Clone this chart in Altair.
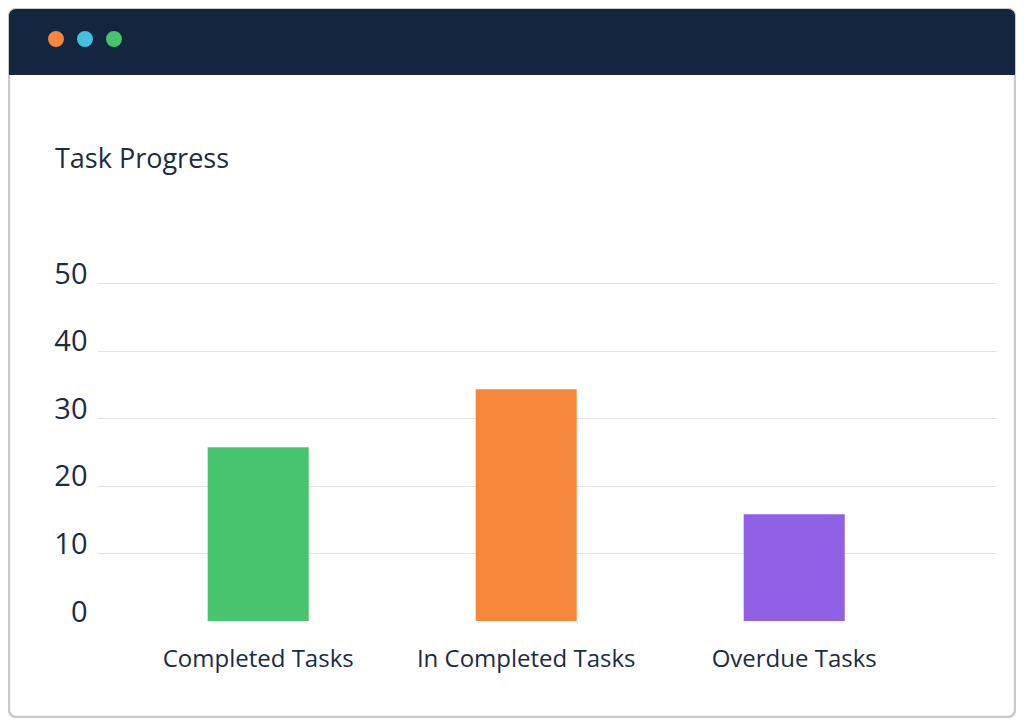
import altair as alt
import pandas as pd

# Data
categories = ['Completed Tasks', 'In Completed Tasks', 'Overdue Tasks']
values = [25.7, 34.3, 15.8]
bar_colors = ['#48c46e', '#f6873a', '#8e60e3']
y_ticks = [0, 10, 20, 30, 40, 50]
dot_colors = ['#f5853f', '#45c0df', '#45c46b']

FONT = 'Open Sans'
TEXT = '#1c2a42'

df = pd.DataFrame({'task': categories, 'count': values})
dots = pd.DataFrame({'x': [-41, -12, 17], 'c': dot_colors})
one = pd.DataFrame({'a': [0]})

# Window frame and header (decoration, plot-area pixel offsets)
frame = alt.Chart(one).mark_rect(
    fill=None, stroke='#c9c9c9', strokeWidth=2.5, cornerRadius=7
).encode(x=alt.value(-88), x2=alt.value(918), y=alt.value(-274), y2=alt.value(434))

header = alt.Chart(one).mark_rect(
    fill='#13253f', cornerRadiusTopLeft=7, cornerRadiusTopRight=7
).encode(x=alt.value(-88), x2=alt.value(918), y=alt.value(-274), y2=alt.value(-208))

dot_layer = alt.Chart(dots).mark_circle(size=254, opacity=1).encode(
    x=alt.X('x:Q', scale=None),
    y=alt.value(-244),
    color=alt.Color('c:N', scale=None),
)

title = alt.Chart(one).mark_text(
    text='Task Progress', align='left', baseline='alphabetic',
    font=FONT, fontSize=27, fontWeight=500, color=TEXT
).encode(x=alt.value(-42), y=alt.value(-115))

bars = alt.Chart(df).mark_bar().encode(
    x=alt.X('task:N', sort=categories, title=None,
            scale=alt.Scale(paddingInner=0.623, paddingOuter=0.4887, align=0.4225),
            axis=alt.Axis(labelAngle=0, labelFont=FONT, labelFontSize=24,
                          labelFontWeight=500, labelLimit=0,
                          labelColor=TEXT, labelPadding=26, ticks=False,
                          domain=False, grid=False)),
    y=alt.Y('count:Q', title=None,
            scale=alt.Scale(domain=[0, 50], nice=False),
            axis=alt.Axis(values=y_ticks, labelFont=FONT, labelFontSize=29,
                          labelFontWeight=500,
                          labelColor=TEXT, labelPadding=10,
                          labelBaseline='alphabetic', ticks=False, domain=False,
                          gridColor='#e3e3e3',
                          gridOpacity=alt.condition('datum.value === 0', alt.value(0), alt.value(1)))),
    color=alt.Color('task:N', sort=categories,
                    scale=alt.Scale(domain=categories, range=bar_colors), legend=None),
)

chart = alt.layer(frame, header, dot_layer, title, bars).resolve_scale(
    x='independent', color='independent'
).properties(
    width=899, height=338,
    padding={'left': 89, 'top': 275, 'right': 20, 'bottom': 97},
    autosize=alt.AutoSizeParams(type='none'),
    background='white',
).configure_view(stroke=None)

chart.save('out.html', embed_options={'renderer': 'svg', 'actions': False})
